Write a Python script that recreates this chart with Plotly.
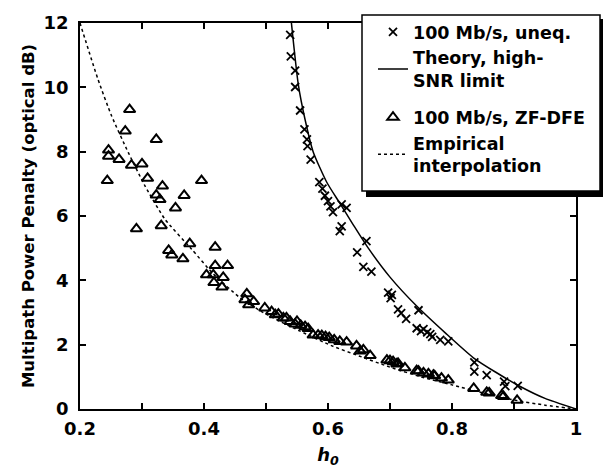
import plotly.graph_objects as go

# ---- data ----
uneq_h0 = [0.539, 0.540, 0.547, 0.547, 0.555, 0.562, 0.566, 0.567, 0.572, 0.586,
           0.591, 0.595, 0.600, 0.604, 0.608, 0.622, 0.630, 0.622, 0.619, 0.662,
           0.647, 0.657, 0.670, 0.697, 0.701, 0.703, 0.713, 0.718, 0.726, 0.746,
           0.743, 0.754, 0.765, 0.768, 0.781, 0.794, 0.750, 0.760, 0.836, 0.836,
           0.856, 0.884, 0.886, 0.906]
uneq_pen = [11.63, 10.96, 10.52, 10.01, 9.28, 8.69, 8.38, 8.17, 7.75, 7.05,
            6.85, 6.63, 6.46, 6.30, 6.12, 6.36, 6.25, 5.68, 5.53, 5.22,
            4.87, 4.42, 4.27, 3.62, 3.45, 3.55, 3.10, 2.98, 2.80, 3.07,
            2.51, 2.48, 2.33, 2.24, 2.15, 2.10, 2.42, 2.38, 1.45, 1.16,
            1.05, 0.85, 0.71, 0.72]

dfe_h0 = [0.280, 0.273, 0.323, 0.246, 0.246, 0.263, 0.283, 0.300, 0.244, 0.309,
          0.333, 0.396, 0.323, 0.329, 0.368, 0.354, 0.291, 0.331, 0.377, 0.418,
          0.343, 0.348, 0.366, 0.418, 0.438, 0.404, 0.415, 0.431, 0.416, 0.429,
          0.469, 0.466, 0.472, 0.480, 0.498, 0.509, 0.515, 0.520, 0.528, 0.533,
          0.539, 0.547, 0.550, 0.556, 0.563, 0.568, 0.576, 0.584, 0.590, 0.596,
          0.602, 0.610, 0.619, 0.630, 0.646, 0.652, 0.657, 0.668, 0.695, 0.700,
          0.705, 0.711, 0.713, 0.724, 0.743, 0.746, 0.754, 0.762, 0.770, 0.772,
          0.783, 0.794, 0.835, 0.856, 0.860, 0.883, 0.880, 0.905]
dfe_pen = [9.31, 8.64, 8.38, 8.05, 7.86, 7.76, 7.58, 7.62, 7.10, 7.17,
           6.93, 7.10, 6.65, 6.51, 6.64, 6.25, 5.60, 5.70, 5.14, 5.03,
           4.93, 4.79, 4.67, 4.46, 4.46, 4.17, 4.17, 4.09, 3.93, 3.79,
           3.58, 3.40, 3.24, 3.34, 3.14, 3.03, 2.93, 2.95, 2.83, 2.83,
           2.72, 2.64, 2.72, 2.60, 2.56, 2.50, 2.30, 2.30, 2.28, 2.25,
           2.22, 2.15, 2.10, 2.08, 1.96, 1.80, 1.84, 1.66, 1.52, 1.50,
           1.47, 1.40, 1.42, 1.28, 1.19, 1.18, 1.12, 1.09, 1.05, 1.03,
           0.96, 0.90, 0.64, 0.52, 0.50, 0.39, 0.42, 0.27]

theory_h0 = [0.541, 0.552, 0.563, 0.576, 0.598, 0.619, 0.640, 0.665, 0.700, 0.743,
             0.790, 0.834, 0.870, 0.910, 0.950, 1.000]
theory_pen = [12.0, 10.1, 9.0, 8.0, 7.05, 6.4, 5.75, 5.0, 4.1, 3.2,
              2.35, 1.6, 1.15, 0.7, 0.33, 0.0]

emp_h0 = [0.200, 0.229, 0.251, 0.278, 0.305, 0.337, 0.380, 0.415, 0.458, 0.500,
          0.555, 0.608, 0.650, 0.700, 0.750, 0.800, 0.850, 0.900, 0.950, 1.000]
emp_pen = [12.0, 10.25, 9.11, 7.97, 6.93, 5.90, 4.97, 4.20, 3.46, 2.95,
           2.42, 1.95, 1.65, 1.30, 1.00, 0.75, 0.50, 0.28, 0.12, 0.0]

x_ticks = [0.2, 0.4, 0.6, 0.8, 1.0]
x_ticklabels = ["0.2", "0.4", "0.6", "0.8", "1"]
y_ticks = [0, 2, 4, 6, 8, 10, 12]

FONT = "DejaVu Sans, Liberation Sans, Arial, sans-serif"

fig = go.Figure()

fig.add_trace(go.Scatter(
    x=uneq_h0, y=uneq_pen, mode="markers", name="100 Mb/s, uneq.",
    legendgroup="g1",
    marker=dict(symbol="x-thin-open", size=8, color="black",
                line=dict(color="black", width=1.8)),
))
fig.add_trace(go.Scatter(
    x=theory_h0, y=theory_pen, mode="lines", name="Theory, high-<br>SNR limit",
    legendgroup="g1", line=dict(color="black", width=1.5, shape="spline", smoothing=0.6),
))
fig.add_trace(go.Scatter(
    x=dfe_h0, y=dfe_pen, mode="markers", name="100 Mb/s, ZF-DFE",
    legendgroup="g2",
    marker=dict(symbol="triangle-up-open", size=10, color="black",
                line=dict(color="black", width=2)),
))
fig.add_trace(go.Scatter(
    x=emp_h0, y=emp_pen, mode="lines", name="Empirical<br>interpolation",
    legendgroup="g2", line=dict(color="black", width=1.5, dash="3px,3px",
                                shape="spline", smoothing=0.6),
))

L, R, T, B = 80, 27, 23, 62
W, H = 603, 471
pw, ph = W - L - R, H - T - B

def px2paper_x(px):
    return (px - L) / pw

def px2paper_y(py):
    return (H - B - py) / ph

# legend frame with drop shadow (drawn as shapes; legend itself is transparent)
fig.add_shape(type="rect", xref="paper", yref="paper",
              x0=px2paper_x(366), x1=px2paper_x(608),
              y0=px2paper_y(197), y1=px2paper_y(19),
              fillcolor="black", line=dict(width=0), layer="above")
fig.add_shape(type="rect", xref="paper", yref="paper",
              x0=px2paper_x(362), x1=px2paper_x(600),
              y0=px2paper_y(191), y1=px2paper_y(15),
              fillcolor="white", line=dict(color="black", width=1.5), layer="above")

fig.update_layout(
    width=W, height=H,
    margin=dict(l=L, r=R, t=T, b=B, autoexpand=False),
    paper_bgcolor="white", plot_bgcolor="white",
    font=dict(family=FONT, color="black", size=17, weight="bold"),
    showlegend=True,
    legend=dict(
        x=px2paper_x(373), y=px2paper_y(14), xanchor="left", yanchor="top",
        bgcolor="rgba(0,0,0,0)", borderwidth=0,
        font=dict(family=FONT, size=17.5, color="black", weight="bold"),
        traceorder="grouped", tracegroupgap=11, itemwidth=30,
    ),
    xaxis=dict(
        range=[0.2, 1.0], tickvals=x_ticks, ticktext=x_ticklabels,
        ticks="inside", ticklen=6, tickwidth=1.5, tickcolor="black",
        minor=dict(dtick=0.1, tick0=0.2, ticks="inside", ticklen=6, tickwidth=1.5, tickcolor="black"),
        showline=True, linecolor="black", linewidth=1.5, mirror="allticks",
        showgrid=False, zeroline=False, ticklabelstandoff=3, automargin=False,
        tickfont=dict(family=FONT, size=18, weight="bold"),
        title=dict(text="<i>h</i><sub><i>0</i></sub>", standoff=10,
                   font=dict(family=FONT, size=18, weight="bold")),
    ),
    yaxis=dict(
        range=[0, 12], tickvals=y_ticks,
        ticks="inside", ticklen=6, tickwidth=1.5, tickcolor="black",
        showline=True, linecolor="black", linewidth=1.5, mirror="allticks",
        showgrid=False, zeroline=False, ticklabelstandoff=6, automargin=False,
        tickfont=dict(family=FONT, size=18, weight="bold"),
        title=dict(text="Multipath Power Penalty (optical dB)", standoff=5,
                   font=dict(family=FONT, size=16.5, weight="bold")),
    ),
)

fig.write_html("out.html")
